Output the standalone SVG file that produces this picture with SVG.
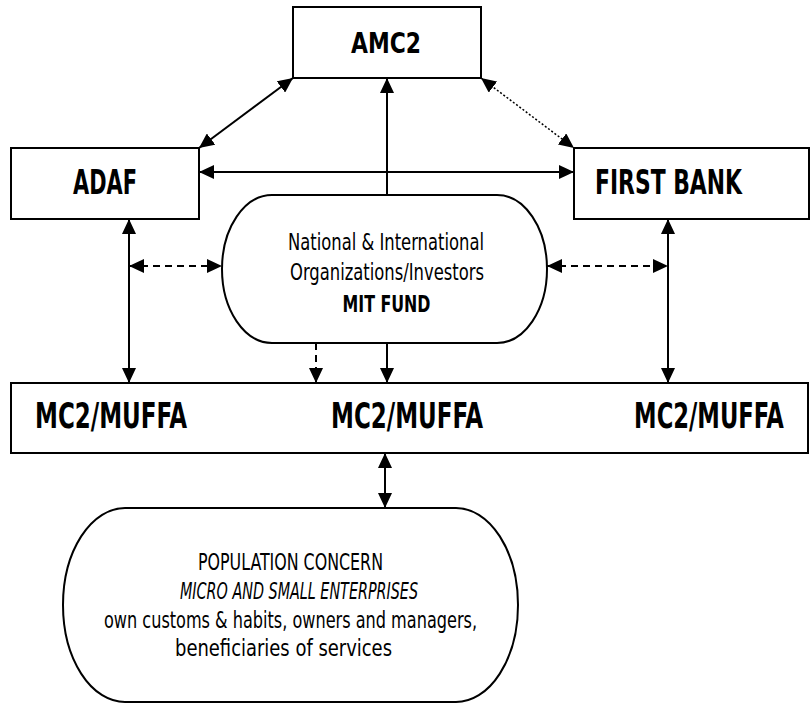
<svg xmlns="http://www.w3.org/2000/svg" width="810" height="704" viewBox="0 0 810 704">
<style>
  .box{fill:#fff;stroke:#000;stroke-width:2}
  .t{font-family:"Liberation Sans Narrow","DejaVu Sans Condensed","Liberation Sans",sans-serif;font-stretch:condensed;fill:#000}
  .b{font-weight:bold}
  .c{text-anchor:middle}
  .ln{fill:none;stroke:#000;stroke-width:2}
  .dash{stroke-dasharray:7,5}
  .dot{stroke-width:1.5;stroke-dasharray:2,2}
</style>
<defs>
  <marker id="ah" viewBox="0 0 15 14" refX="15" refY="7" markerWidth="15" markerHeight="14" markerUnits="userSpaceOnUse" orient="auto-start-reverse">
    <path d="M0,0 L15,7 L0,14 z" fill="#000" stroke="none"/>
  </marker>
</defs>
<rect width="810" height="704" fill="#fff"/>

<g id="connectors">
  <line class="ln" x1="293" y1="78" x2="199" y2="148" marker-start="url(#ah)" marker-end="url(#ah)"/>
  <line class="ln" x1="387" y1="195" x2="387" y2="78" marker-end="url(#ah)"/>
  <line class="ln" x1="199" y1="172" x2="574" y2="172" marker-start="url(#ah)" marker-end="url(#ah)"/>
  <line class="ln dot" x1="481" y1="78" x2="574" y2="148" marker-start="url(#ah)" marker-end="url(#ah)"/>
  <line class="ln" x1="129" y1="219" x2="129" y2="383" marker-start="url(#ah)" marker-end="url(#ah)"/>
  <line class="ln dash" x1="129" y1="266" x2="222" y2="266" marker-start="url(#ah)" marker-end="url(#ah)"/>
  <line class="ln" x1="668" y1="219" x2="668" y2="383" marker-start="url(#ah)" marker-end="url(#ah)"/>
  <line class="ln dash" x1="547" y1="266" x2="668" y2="266" marker-start="url(#ah)" marker-end="url(#ah)"/>
  <line class="ln dash" x1="316" y1="343" x2="316" y2="383" marker-end="url(#ah)"/>
  <line class="ln" x1="387" y1="343" x2="387" y2="383" marker-end="url(#ah)"/>
  <line class="ln" x1="385" y1="453" x2="385" y2="508" marker-start="url(#ah)" marker-end="url(#ah)"/>
</g>

<g id="amc2">
  <rect class="box" x="293" y="7" width="188" height="71"/>
  <text class="t b c" x="386" y="53" font-size="28" textLength="70" lengthAdjust="spacingAndGlyphs">AMC2</text>
</g>

<g id="adaf">
  <rect class="box" x="11" y="148" width="188" height="71"/>
  <text class="t b c" x="105" y="194" font-size="33" textLength="64" lengthAdjust="spacingAndGlyphs">ADAF</text>
</g>

<g id="firstbank">
  <rect class="box" x="574" y="148" width="235" height="71"/>
  <text class="t b" x="595" y="194" font-size="33" textLength="147" lengthAdjust="spacingAndGlyphs">FIRST BANK</text>
</g>

<g id="mitfund">
  <rect class="box" x="222" y="195" width="325" height="148" rx="50" ry="74"/>
  <text class="t c" x="386" y="250" font-size="23" textLength="196" lengthAdjust="spacingAndGlyphs">National &amp; International</text>
  <text class="t c" x="387" y="280" font-size="23" textLength="194" lengthAdjust="spacingAndGlyphs">Organizations/Investors</text>
  <text class="t b c" x="386.5" y="311.5" font-size="23" textLength="88" lengthAdjust="spacingAndGlyphs">MIT FUND</text>
</g>

<g id="mc2muffa">
  <rect class="box" x="11" y="383" width="797" height="70"/>
  <text class="t b" x="35" y="428" font-size="35" textLength="152" lengthAdjust="spacingAndGlyphs">MC2/MUFFA</text>
  <text class="t b" x="331" y="428" font-size="35" textLength="152" lengthAdjust="spacingAndGlyphs">MC2/MUFFA</text>
  <text class="t b c" transform="translate(709,428) scale(0.72,1)" x="0" y="0" font-size="35">MC2/MUFFA</text>
</g>

<g id="population">
  <rect class="box" x="63" y="508" width="455" height="194" rx="62" ry="97"/>
  <text class="t c" x="290.5" y="570" font-size="23" textLength="185" lengthAdjust="spacingAndGlyphs">POPULATION CONCERN</text>
  <text class="t c" x="299" y="599" font-size="23" font-style="italic" textLength="238" lengthAdjust="spacingAndGlyphs">MICRO AND SMALL ENTERPRISES</text>
  <text class="t c" x="290.5" y="628" font-size="23" textLength="373" lengthAdjust="spacingAndGlyphs">own customs &amp; habits, owners and managers,</text>
  <text class="t c" x="283.5" y="656" font-size="23" textLength="217" lengthAdjust="spacingAndGlyphs">beneficiaries of services</text>
</g>
</svg>
